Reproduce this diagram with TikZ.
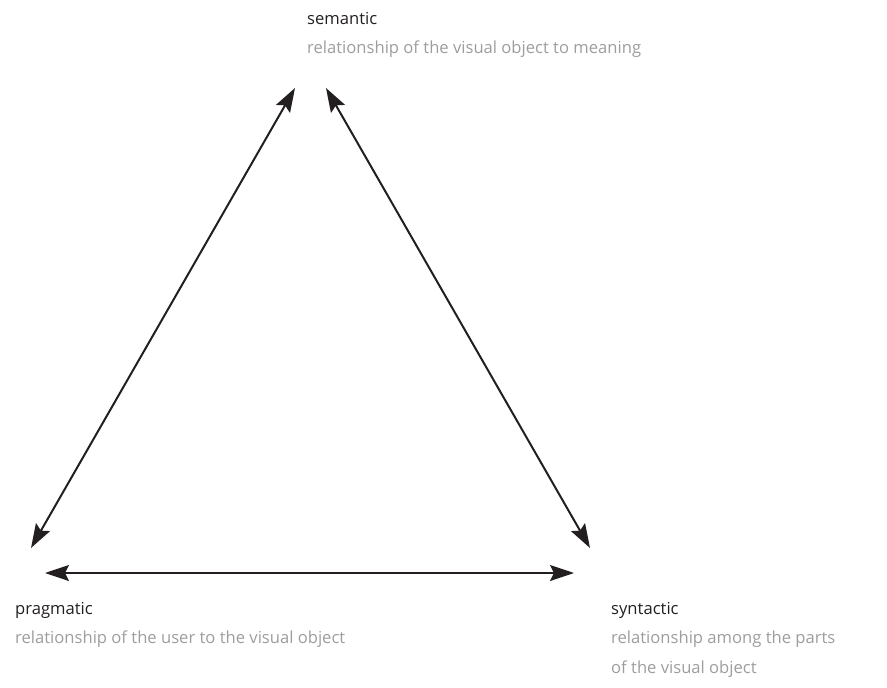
\documentclass[tikz,border=0pt]{standalone}
\usepackage{fontspec}
\setmainfont{Open Sans}
\usetikzlibrary{arrows.meta}
\definecolor{labelgray}{HTML}{9D9D9C}
\definecolor{arrowblack}{HTML}{231F20}
\begin{document}
\begin{tikzpicture}[x=1pt,y=-1pt,
  conn/.style={line width=2pt, draw=arrowblack, {Stealth[length=24pt,width=16pt,inset=4pt]}-{Stealth[length=24pt,width=16pt,inset=4pt]}},
  titletext/.style={anchor=base west, inner sep=0pt, font=\fontsize{16.6}{30}\selectfont, text=arrowblack},
  desctext/.style={anchor=base west, inner sep=0pt, align=left, font=\fontsize{16.6}{30}\selectfont, text=labelgray}]
\useasboundingbox (0,0) rectangle (887,688);
% arrow end points
\coordinate (semL) at (295,88);
\coordinate (semR) at (326,88);
\coordinate (pragD) at (31,548);
\coordinate (pragH) at (45,573);
\coordinate (synD) at (590,548);
\coordinate (synH) at (574,573);
\draw[conn] (semL) -- (pragD);
\draw[conn] (semR) -- (synD);
\draw[conn] (pragH) -- (synH);
% labels
\node[titletext] (semantic) at (307,24) {semantic};
\node[desctext] (semdesc) at (307,53) {relationship of the visual object to meaning};
\node[titletext] (pragmatic) at (15,614) {pragmatic};
\node[desctext] (pragdesc) at (15,643) {relationship of the user to the visual object};
\node[titletext] (syntactic) at (611,614) {syntactic};
\node[desctext] (syndesc) at (611,673) {relationship among the parts\\of the visual object};
\end{tikzpicture}
\end{document}
